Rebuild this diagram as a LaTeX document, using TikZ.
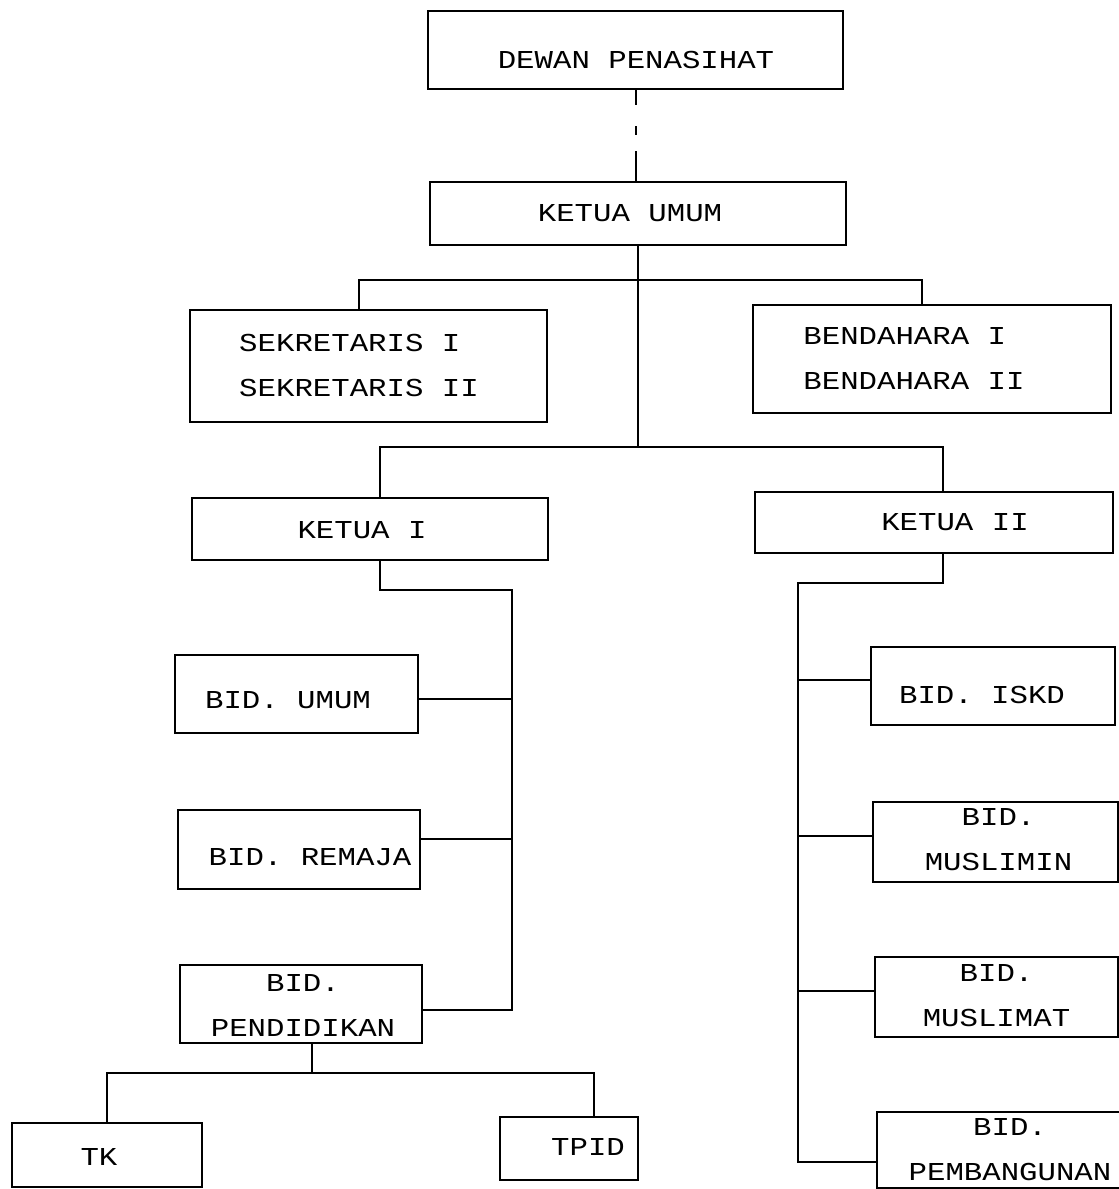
\documentclass[tikz,border=0pt]{standalone}
\usepackage{fontspec}
\newfontfamily\plotfont[FakeStretch=1.19]{Liberation Mono}
\begin{document}
\begin{tikzpicture}[x=0.5pt,y=-0.5pt,
  box/.style={draw,rectangle,line width=1pt,inner sep=0pt},
  txt/.style={font=\plotfont\fontsize{12.9pt}{22.5pt}\selectfont,align=center,inner sep=0pt},
  conn/.style={line width=1pt},
  dashconn/.style={line width=1pt,dash pattern=on 7.5pt off 10.5pt on 4.5pt off 8pt on 15pt off 10pt}]
\useasboundingbox[fill=white] (0,0) rectangle (1119,1189);

% boxes
\node[box,minimum width=207.5pt,minimum height=39pt,
  label={[txt,xshift=0.25pt,yshift=-5pt]center:DEWAN PENASIHAT}] (dewan) at (635.5,50) {};
\node[box,minimum width=208pt,minimum height=31.5pt,
  label={[txt,xshift=-4pt]center:KETUA UMUM}] (umum) at (638,213.5) {};
\node[box,minimum width=178.5pt,minimum height=56pt,
  label={[txt,align=left,xshift=-4.75pt,yshift=0.5pt]center:{SEKRETARIS I\\SEKRETARIS II}}] (sek) at (368.5,366) {};
\node[box,minimum width=179pt,minimum height=54pt,
  label={[txt,align=left,xshift=-9pt,yshift=0.5pt]center:{BENDAHARA I\\BENDAHARA II}}] (bend) at (932,359) {};
\node[box,minimum width=178pt,minimum height=31pt,
  label={[txt,xshift=-4pt,yshift=-0.5pt]center:KETUA I}] (k1) at (370,529) {};
\node[box,minimum width=179pt,minimum height=30.5pt,
  label={[txt,xshift=10.5pt]center:KETUA II}] (k2) at (934,522.5) {};
\node[box,minimum width=121.5pt,minimum height=39pt,
  label={[txt,xshift=-4.25pt,yshift=-3pt]center:BID. UMUM}] (bumum) at (296.5,694) {};
\node[box,minimum width=121pt,minimum height=39.5pt,
  label={[txt,xshift=5.5pt,yshift=-3.75pt]center:BID. REMAJA}] (remaja) at (299,849.5) {};
\node[box,minimum width=121pt,minimum height=39pt,
  label={[txt,xshift=1pt,yshift=-0.5pt]center:{BID.\\PENDIDIKAN}}] (pend) at (301,1004) {};
\node[box,minimum width=95pt,minimum height=32pt,
  label={[txt,xshift=-4pt,yshift=-1pt]center:TK}] (tk) at (107,1155) {};
\node[box,minimum width=69pt,minimum height=31.5pt,
  label={[txt,xshift=9.5pt,yshift=0.75pt]center:TPID}] (tpid) at (569,1148.5) {};
\node[box,minimum width=122pt,minimum height=39pt,
  label={[txt,xshift=-5.5pt,yshift=-4.5pt]center:BID. ISKD}] (iskd) at (993,686) {};
\node[box,minimum width=122.5pt,minimum height=40pt,
  label={[txt,xshift=1.5pt,yshift=1pt]center:{BID.\\MUSLIMIN}}] (muslimin) at (995.5,842) {};
\node[box,minimum width=121.5pt,minimum height=40pt,
  label={[txt,xshift=0pt,yshift=0.75pt]center:{BID.\\MUSLIMAT}}] (muslimat) at (996.5,997) {};
\node[box,minimum width=129pt,minimum height=38pt,
  label={[txt,xshift=2pt,yshift=0pt]center:{BID.\\PEMBANGUNAN}}] (pemb) at (1006,1150) {};

% junction coordinates
\coordinate (j1) at (638,280);
\coordinate (j2) at (638,447);
\coordinate (lb1) at (512,590);
\coordinate (lb2) at (512,1010);
\coordinate (rb1) at (798,583);
\coordinate (rb2) at (798,1162);
\coordinate (pb) at (312,1073);

% connectors
\draw[dashconn] (dewan.south) -- (dewan.south |- umum.north);
\draw[conn] (umum.south) -- (j2);
\draw[conn] ([xshift=-5pt]sek.north) |- (j1) -| ([xshift=-5pt]bend.north);
\draw[conn] ([xshift=5pt]k1.north) |- (j2) -| ([xshift=4.5pt]k2.north);

\draw[conn] ([xshift=5pt]k1.south) |- (lb1) -- (lb2) -- ([yshift=-3pt]pend.east);
\draw[conn] ([yshift=-2.5pt]bumum.east) -- ([yshift=-2.5pt]bumum.east -| lb1);
\draw[conn] ([yshift=5.25pt]remaja.east) -- ([yshift=5.25pt]remaja.east -| lb1);

\draw[conn] ([xshift=5.5pt]pend.south) -- (pb);
\draw[conn] (tk.north) |- (pb) -| ([xshift=12.5pt]tpid.north);

\draw[conn] ([xshift=4.5pt]k2.south) |- (rb1) -- (rb2) -- ([yshift=-6pt]pemb.west);
\draw[conn] ([yshift=3pt]iskd.west) -- ([yshift=3pt]iskd.west -| rb1);
\draw[conn] ([yshift=3pt]muslimin.west) -- ([yshift=3pt]muslimin.west -| rb1);
\draw[conn] ([yshift=3pt]muslimat.west) -- ([yshift=3pt]muslimat.west -| rb1);
\end{tikzpicture}
\end{document}
